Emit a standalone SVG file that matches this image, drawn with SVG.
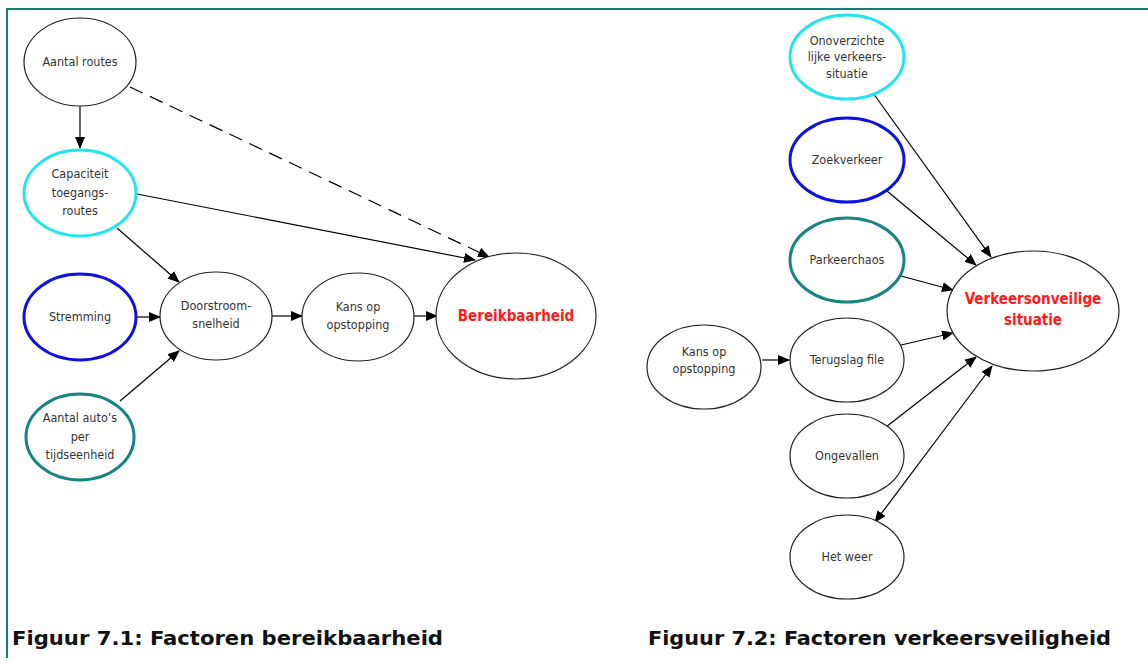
<svg xmlns="http://www.w3.org/2000/svg" width="1148" height="664" viewBox="0 0 1148 664">
  <defs>
    <marker id="arrow" markerUnits="userSpaceOnUse" markerWidth="12" markerHeight="10" refX="11" refY="5" orient="auto">
      <path d="M0,0 L12,5 L0,10 Z" fill="#000"/>
    </marker>
    <marker id="arrowStart" markerUnits="userSpaceOnUse" markerWidth="12" markerHeight="10" refX="1" refY="5" orient="auto">
      <path d="M12,0 L0,5 L12,10 Z" fill="#000"/>
    </marker>
  </defs>
  <style>
    .node { fill: #fff; stroke: #222; stroke-width: 1.2; }
    .cyan { stroke: #22e5ee; stroke-width: 3; }
    .blue { stroke: #1010e0; stroke-width: 3; }
    .teal { stroke: #158482; stroke-width: 3; }
    .lbl { font-family: "DejaVu Sans Condensed", "DejaVu Sans", sans-serif; font-size: 12.5px; fill: #333; text-anchor: middle; }
    .goal { font-family: "DejaVu Sans Condensed", "DejaVu Sans", sans-serif; font-size: 15px; font-weight: bold; fill: #ff1a1a; text-anchor: middle; }
    .edge { stroke: #000; stroke-width: 1.2; fill: none; marker-end: url(#arrow); }
    .dash { stroke-dasharray: 14 8; }
    .cap { font-family: "DejaVu Sans Condensed", "DejaVu Sans", sans-serif; font-size: 19px; font-weight: bold; fill: #111; }
  </style>

  <rect width="1148" height="664" fill="#fff"/>
  <!-- frame -->
  <path d="M7,658 L7,9 L1148,9" fill="none" stroke="#0f7f7a" stroke-width="2"/>

  <!-- connectors -->
  <g id="connectors">
    <line class="edge" x1="80" y1="106" x2="80" y2="148"/>
    <line class="edge dash" x1="130" y1="87" x2="489" y2="257"/>
    <line class="edge" x1="137" y1="194" x2="475" y2="260"/>
    <line class="edge" x1="117" y1="228" x2="179" y2="282"/>
    <line class="edge" x1="137" y1="317" x2="160" y2="317"/>
    <line class="edge" x1="120" y1="401" x2="179" y2="351"/>
    <line class="edge" x1="271" y1="316" x2="302" y2="316"/>
    <line class="edge" x1="414" y1="316" x2="437" y2="316"/>

    <line class="edge" x1="873" y1="93" x2="991" y2="257"/>
    <line class="edge" x1="887" y1="191" x2="976" y2="265"/>
    <line class="edge" x1="901" y1="276" x2="953" y2="290"/>
    <line class="edge" x1="901" y1="345" x2="953" y2="333"/>
    <line class="edge" x1="886" y1="427" x2="976" y2="357"/>
    <line class="edge" x1="875" y1="522" x2="992" y2="366" marker-start="url(#arrowStart)"/>
    <line class="edge" x1="762" y1="360" x2="789" y2="360"/>
  </g>

  <!-- left diagram -->
  <g id="aantal-routes">
    <ellipse class="node" cx="80" cy="62" rx="56" ry="44"/>
    <text class="lbl" x="80" y="66">Aantal routes</text>
  </g>
  <g id="capaciteit">
    <ellipse class="node cyan" cx="80" cy="193" rx="56" ry="43"/>
    <text class="lbl" x="80" y="178">Capaciteit</text>
    <text class="lbl" x="80" y="197">toegangs-</text>
    <text class="lbl" x="80" y="215">routes</text>
  </g>
  <g id="stremming">
    <ellipse class="node blue" cx="80" cy="317" rx="56" ry="43"/>
    <text class="lbl" x="80" y="321">Stremming</text>
  </g>
  <g id="aantal-autos">
    <ellipse class="node teal" cx="80" cy="437" rx="54" ry="43"/>
    <text class="lbl" x="80" y="422">Aantal auto’s</text>
    <text class="lbl" x="80" y="441">per</text>
    <text class="lbl" x="80" y="459">tijdseenheid</text>
  </g>
  <g id="doorstroom">
    <ellipse class="node" cx="216" cy="316" rx="56" ry="44"/>
    <text class="lbl" x="216" y="310">Doorstroom-</text>
    <text class="lbl" x="216" y="328">snelheid</text>
  </g>
  <g id="kans-1">
    <ellipse class="node" cx="358" cy="317" rx="56" ry="44"/>
    <text class="lbl" x="358" y="311">Kans op</text>
    <text class="lbl" x="358" y="329">opstopping</text>
  </g>
  <g id="bereikbaarheid">
    <ellipse class="node" cx="516" cy="316" rx="80" ry="63"/>
    <text class="goal" x="516" y="321">Bereikbaarheid</text>
  </g>

  <!-- right diagram -->
  <g id="onoverzichtelijk">
    <ellipse class="node cyan" cx="847" cy="57" rx="57" ry="42"/>
    <text class="lbl" x="847" y="45">Onoverzichte</text>
    <text class="lbl" x="847" y="61">lijke verkeers-</text>
    <text class="lbl" x="847" y="78">situatie</text>
  </g>
  <g id="zoekverkeer">
    <ellipse class="node blue" cx="847" cy="160" rx="57" ry="42"/>
    <text class="lbl" x="847" y="164">Zoekverkeer</text>
  </g>
  <g id="parkeerchaos">
    <ellipse class="node teal" cx="847" cy="260" rx="57" ry="42"/>
    <text class="lbl" x="847" y="264">Parkeerchaos</text>
  </g>
  <g id="verkeersonveilig">
    <ellipse class="node" cx="1033" cy="311" rx="86" ry="60"/>
    <text class="goal" x="1033" y="304">Verkeersonveilige</text>
    <text class="goal" x="1033" y="325">situatie</text>
  </g>
  <g id="kans-2">
    <ellipse class="node" cx="704" cy="367" rx="57" ry="42"/>
    <text class="lbl" x="704" y="356">Kans op</text>
    <text class="lbl" x="704" y="373">opstopping</text>
  </g>
  <g id="terugslag">
    <ellipse class="node" cx="847" cy="360" rx="57" ry="42"/>
    <text class="lbl" x="847" y="364">Terugslag file</text>
  </g>
  <g id="ongevallen">
    <ellipse class="node" cx="847" cy="456" rx="57" ry="42"/>
    <text class="lbl" x="847" y="460">Ongevallen</text>
  </g>
  <g id="het-weer">
    <ellipse class="node" cx="847" cy="557" rx="57" ry="42"/>
    <text class="lbl" x="847" y="561">Het weer</text>
  </g>

  <!-- captions -->
  <text class="cap" x="12" y="645" textLength="431" lengthAdjust="spacingAndGlyphs">Figuur 7.1: Factoren bereikbaarheid</text>
  <text class="cap" x="648" y="645" textLength="463" lengthAdjust="spacingAndGlyphs">Figuur 7.2: Factoren verkeersveiligheid</text>
</svg>
